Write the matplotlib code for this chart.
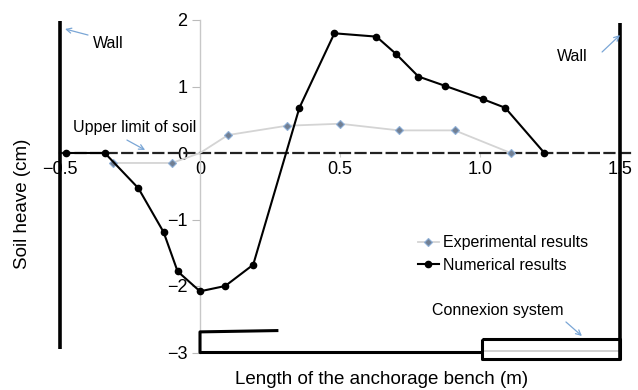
import numpy as np
import matplotlib.pyplot as plt

# soil heave along the anchorage bench
num_x = [-0.48, -0.34, -0.22, -0.13, -0.08, 0.0, 0.09, 0.19, 0.355,
         0.48, 0.63, 0.70, 0.78, 0.875, 1.01, 1.09, 1.23]
num_y = [0.0, 0.0, -0.53, -1.19, -1.78, -2.08, -2.0, -1.68, 0.68,
         1.80, 1.75, 1.49, 1.15, 1.01, 0.81, 0.68, 0.0]

exp_x = [-0.31, -0.10, 0.0, 0.10, 0.31, 0.50, 0.71, 0.91, 1.11]
exp_y = [-0.15, -0.15, 0.0, 0.27, 0.41, 0.44, 0.34, 0.34, 0.0]

x_ticks = [-0.5, 0, 0.5, 1.0, 1.5]
x_ticklabels = ['\u22120.5', '0', '0.5', '1.0', '1.5']
y_ticks = [-3, -2, -1, 0, 1, 2]
y_ticklabels = ['\u22123', '\u22122', '\u22121', '0', '1', '2']

plt.rcParams['font.family'] = 'Liberation Sans'

fig = plt.figure(figsize=(6.38, 3.9), dpi=100)
ax = fig.add_axes([0, 0, 1, 1])
ax.set_xlim(-200 / 280, 438 / 280)
ax.set_ylim(-237 / 66.5, 153 / 66.5)

# axes crossing at the origin, x axis doubles as the soil surface
for side in ['top', 'right']:
    ax.spines[side].set_visible(False)
ax.spines['left'].set_position(('data', 0))
ax.spines['left'].set_bounds(-3, 2)
ax.spines['left'].set_color('#c8c8c8')
ax.spines['left'].set_linewidth(1)
ax.spines['bottom'].set_position(('data', 0))
ax.spines['bottom'].set_bounds(-0.5, 1.55)
ax.spines['bottom'].set_linestyle((0, (4.5, 2.5)))
ax.spines['bottom'].set_linewidth(1.6)
ax.spines['bottom'].set_color('#222222')

ax.set_xticks(x_ticks)
ax.set_xticklabels(x_ticklabels, fontsize=13)
ax.set_yticks(y_ticks)
ax.set_yticklabels(y_ticklabels, fontsize=13)
ax.tick_params(axis='x', direction='out', length=3, color='#cccccc', pad=3)
ax.tick_params(axis='y', direction='out', length=6, color='#bbbbbb', pad=3)

ax.set_xlabel('Length of the anchorage bench (m)', fontsize=13.5)
ax.xaxis.set_label_coords(382 / 638, 1 - 371 / 390)
ax.set_ylabel('Soil heave (cm)', fontsize=13.5)
ax.yaxis.set_label_coords(31 / 638, 1 - 204 / 390)

# walls and anchorage bench outline
wall = dict(color='black', lw=2.6, solid_capstyle='butt', zorder=3)
ax.plot([-0.5, -0.5], [1.98, -2.95], **wall)
ax.plot([1.5, 1.5], [1.95, -3.1], **wall)
bench = dict(color='black', lw=2.2, solid_capstyle='butt', zorder=3)
ax.plot([0.28, 0.0, 0.0, 1.007], [-2.67, -2.69, -3.0, -3.0], **bench)
ax.plot([1.007, 1.5, 1.5, 1.007, 1.007], [-2.8, -2.8, -3.1, -3.1, -2.8], **bench)
ax.plot([1.007, 1.5], [-2.98, -2.98], color='#c8c8c8', lw=1.2, zorder=2)

# results
ax.plot(exp_x, exp_y, color='#d4d4d4', lw=1.3, marker='D', markersize=4,
        markerfacecolor='#717f93', markeredgecolor='#8fb0d8', markeredgewidth=0.8,
        markevery=[0, 1, 3, 4, 5, 6, 7, 8], label='Experimental results', zorder=4)
ax.plot(num_x, num_y, color='black', lw=1.5, marker='o', markersize=4.5,
        label='Numerical results', zorder=5)

ax.legend(loc='center left', bbox_to_anchor=(418 / 638, 1 - 254 / 390),
          bbox_transform=fig.transFigure, frameon=False, fontsize=11.5,
          handlelength=1.3, handletextpad=0.25, labelspacing=0.45,
          borderpad=0, borderaxespad=0, numpoints=1)

# annotations
arrow = dict(arrowstyle='->', color='#7aa6d6', lw=0.9, shrinkA=0, shrinkB=0,
             mutation_scale=9)
ax.text(-0.382, 1.654, 'Wall', fontsize=11.5, ha='left', va='center')
ax.annotate('', xy=(-0.482, 1.865), xytext=(-0.40, 1.774), arrowprops=arrow)
ax.text(1.275, 1.444, 'Wall', fontsize=11.5, ha='left', va='center')
ax.annotate('', xy=(1.5, 1.774), xytext=(1.436, 1.519), arrowprops=arrow)
ax.text(-0.454, 0.376, 'Upper limit of soil', fontsize=11.5, ha='left', va='center')
ax.annotate('', xy=(-0.196, 0.045), xytext=(-0.261, 0.195), arrowprops=arrow)
ax.text(0.829, -2.361, 'Connexion system', fontsize=11.5, ha='left', va='center')
ax.annotate('', xy=(1.364, -2.752), xytext=(1.307, -2.541), arrowprops=arrow)

fig.savefig('out.png', dpi=100)
